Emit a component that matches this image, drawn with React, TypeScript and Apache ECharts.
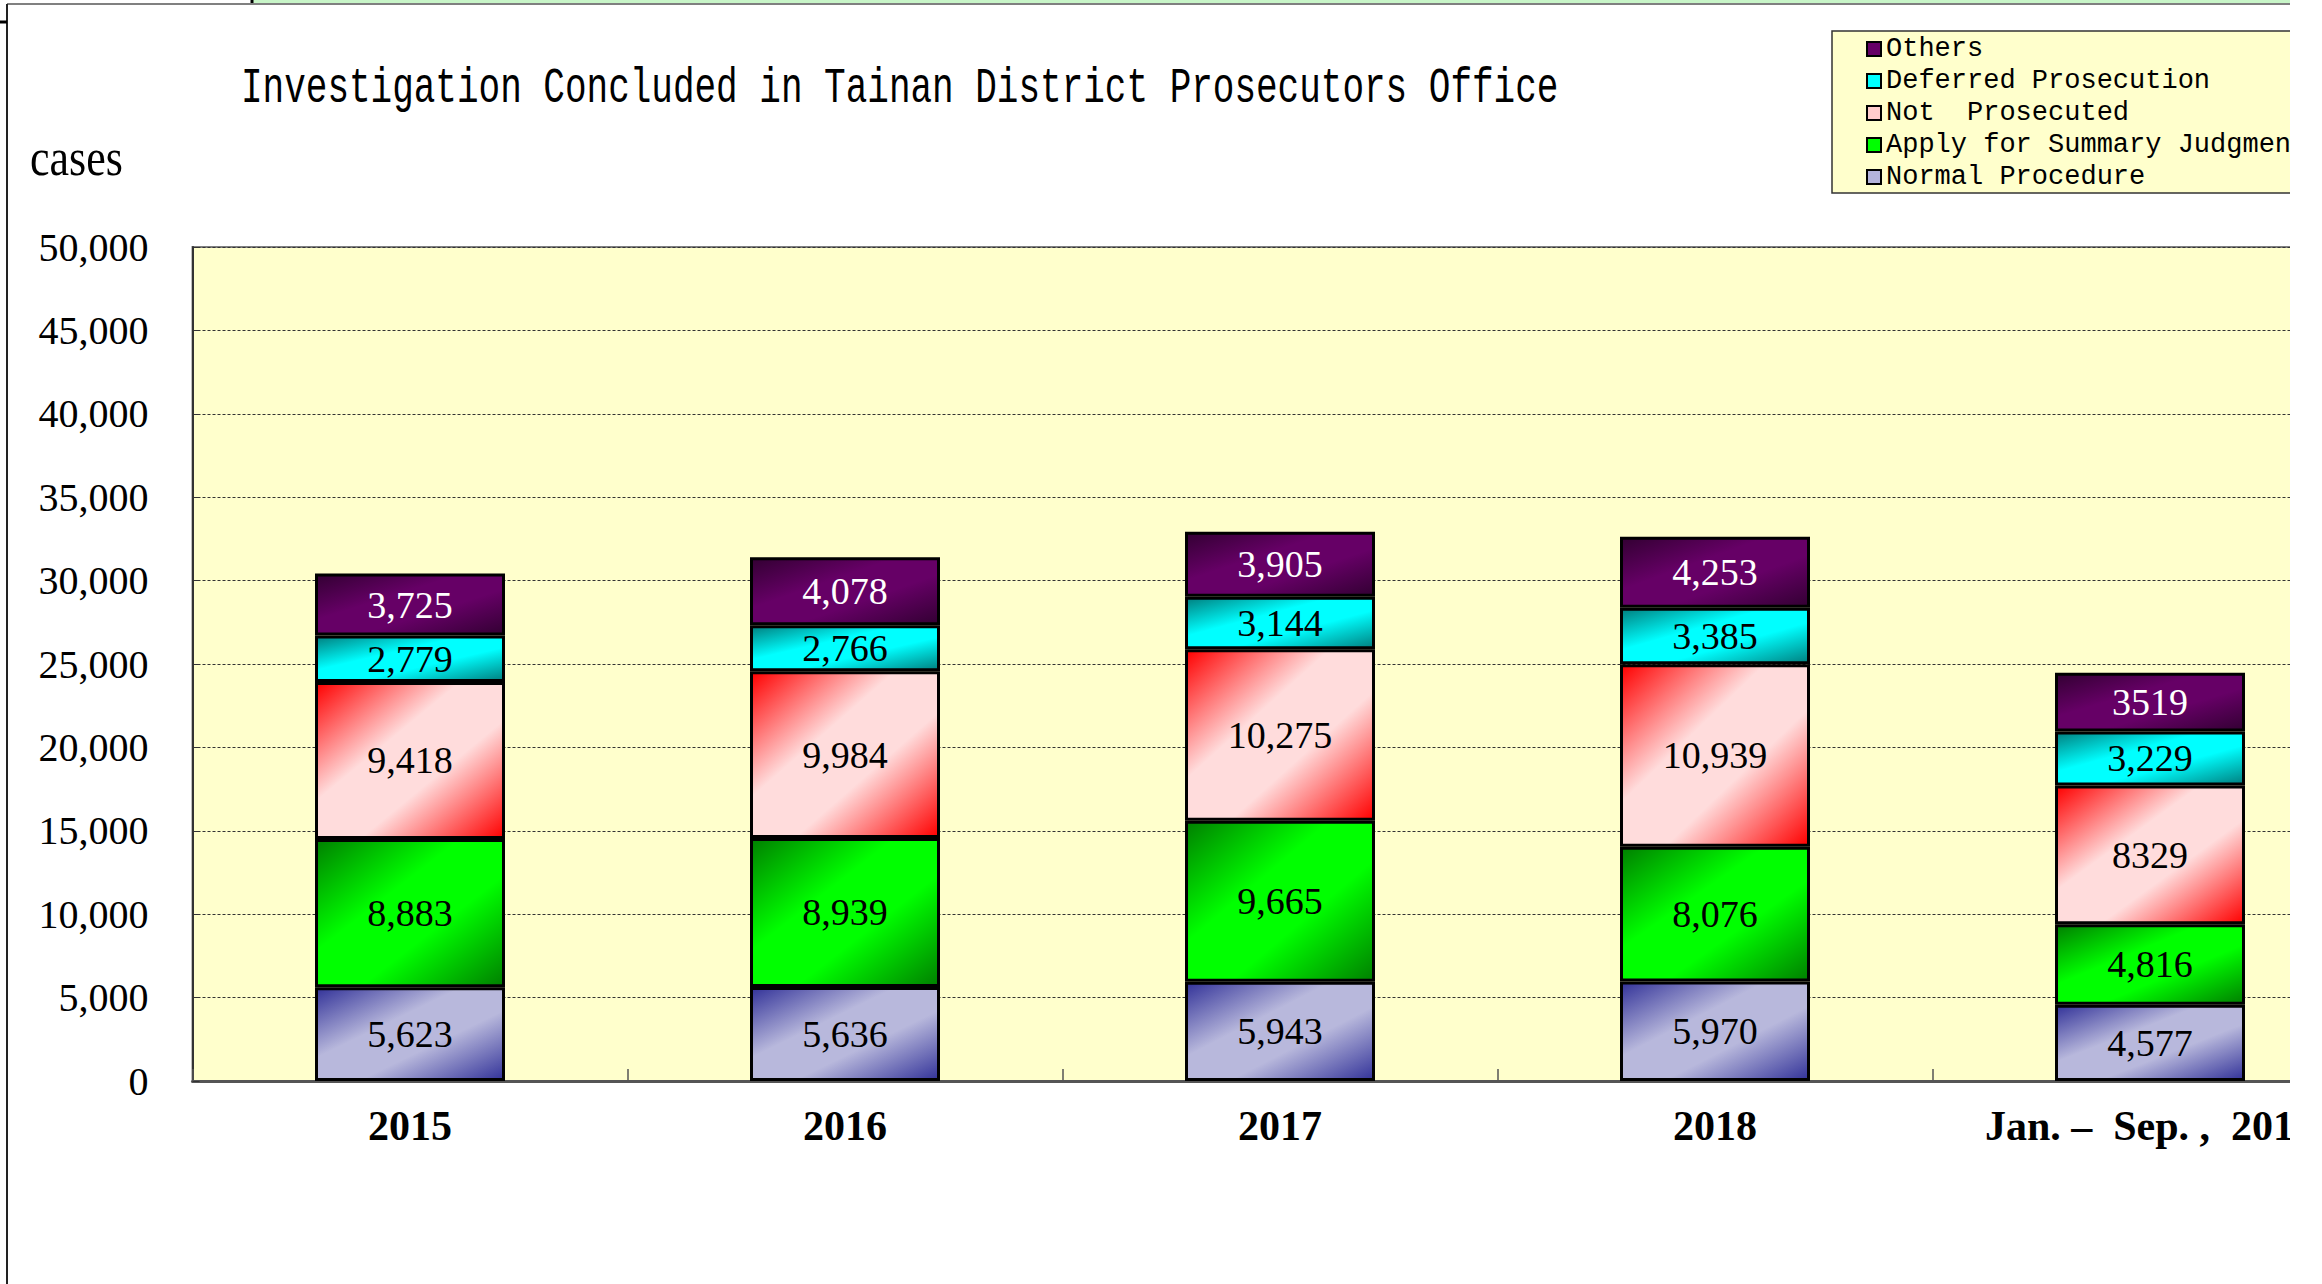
import React, { useEffect, useRef } from "react";
import * as echarts from "echarts";

const categories = ["2015", "2016", "2017", "2018", "Jan. –  Sep. ,  2019"];
const seriesNames = [
  "Normal Procedure",
  "Apply for Summary Judgment",
  "Not  Prosecuted",
  "Deferred Prosecution",
  "Others",
];
const normalProcedure = [5623, 5636, 5943, 5970, 4577];
const summaryJudgment = [8883, 8939, 9665, 8076, 4816];
const notProsecuted = [9418, 9984, 10275, 10939, 8329];
const deferredProsecution = [2779, 2766, 3144, 3385, 3229];
const others = [3725, 4078, 3905, 4253, 3519];
// labels printed without thousands separator in the source: [series index, category index]
const plainLabels = [
  [2, 4],
  [4, 4],
];
const yMin = 0;
const yMax = 50000;
const yStep = 5000;

const titleText = "Investigation Concluded in Tainan District Prosecutors Office";
const unitText = "cases";

const seriesValues = [normalProcedure, summaryJudgment, notProsecuted, deferredProsecution, others];
const darkColors = ["#333399", "#008000", "#FF0000", "#008080", "#330033"];
const lightColors = ["#B8B8DC", "#00FF00", "#FFDCDC", "#00FFFF", "#660066"];
const iconColors = ["#B4B4DC", "#00FF00", "#FFCCCC", "#00FFFF", "#660066"];
const labelColors = ["#000", "#000", "#000", "#000", "#fff"];

const serif = "'Liberation Serif', 'Times New Roman', serif";
const mono = "'Liberation Mono', 'DejaVu Sans Mono', monospace";

export default function App() {
  const ref = useRef<HTMLDivElement>(null);
  useEffect(() => {
    if (!ref.current) return;
    const chart = echarts.init(ref.current, null, { renderer: "svg" });
    const series = seriesNames.map((name, si) => ({
      name,
      type: "bar",
      stack: "total",
      barWidth: 190,
      data: seriesValues[si],
      itemStyle: {
        color: new echarts.graphic.LinearGradient(0, 0, 1, 1, [
          { offset: 0, color: darkColors[si] },
          { offset: 0.38, color: lightColors[si] },
          { offset: 0.62, color: lightColors[si] },
          { offset: 1, color: darkColors[si] },
        ]),
        borderColor: "#000",
        borderWidth: 3,
      },
      label: {
        show: true,
        position: "inside",
        fontFamily: serif,
        fontSize: 38,
        color: labelColors[si],
        formatter: (p: any) => {
          const plain = plainLabels.some((c) => c[0] === si && c[1] === p.dataIndex);
          return plain ? String(p.value) : Number(p.value).toLocaleString("en-US");
        },
      },
    }));
    const legendData = seriesNames
      .map((name, si) => ({
        name,
        itemStyle: { color: iconColors[si], borderColor: "#000", borderWidth: 2 },
      }))
      .reverse();

    chart.setOption({
      animation: false,
      backgroundColor: "#fff",
      grid: {
        left: 192.5,
        top: 247,
        width: 2175,
        height: 834,
        show: true,
        backgroundColor: "#FFFFCC",
        borderColor: "#808080",
        borderWidth: 2,
      },
      legend: {
        orient: "vertical",
        left: 1832,
        top: 31,
        padding: [2, 40, 0, 34],
        itemGap: 0,
        itemWidth: 14,
        itemHeight: 14,
        icon: "rect",
        backgroundColor: "#FFFFCC",
        borderColor: "#333",
        borderWidth: 1.5,
        textStyle: { fontFamily: mono, fontSize: 27, lineHeight: 32, color: "#000" },
        data: legendData,
      },
      xAxis: {
        type: "category",
        data: categories,
        axisLine: { show: true, lineStyle: { color: "#555", width: 3 } },
        axisTick: { show: true, inside: true, length: 12, interval: 0, lineStyle: { color: "#555", width: 1.5 } },
        axisLabel: {
          interval: 0,
          fontFamily: serif,
          fontSize: 42,
          fontWeight: "bold",
          color: "#000",
          margin: 24,
        },
        splitLine: { show: false },
      },
      yAxis: {
        type: "value",
        min: yMin,
        max: yMax,
        interval: yStep,
        axisLine: { show: true, lineStyle: { color: "#333", width: 2 } },
        axisTick: { show: true, inside: true, length: 7, lineStyle: { color: "#333" } },
        axisLabel: {
          fontFamily: serif,
          fontSize: 40,
          color: "#000",
          margin: 44,
          formatter: (v: number) => v.toLocaleString("en-US"),
        },
        splitLine: { show: true, lineStyle: { color: "#333", type: [3, 2], width: 1 } },
      },
      series,
      graphic: [
        { type: "rect", shape: { x: 252, y: 0, width: 2100, height: 3 }, style: { fill: "#C8F5C8" }, silent: true },
        { type: "line", shape: { x1: 252, y1: 0, x2: 252, y2: 4 }, style: { stroke: "#000", lineWidth: 3 }, silent: true },
        { type: "line", shape: { x1: 7, y1: 4, x2: 2400, y2: 4 }, style: { stroke: "#808080", lineWidth: 2 }, silent: true },
        { type: "line", shape: { x1: 7, y1: 4, x2: 7, y2: 1284 }, style: { stroke: "#222", lineWidth: 2 }, silent: true },
        { type: "line", shape: { x1: 0, y1: 22, x2: 7, y2: 22 }, style: { stroke: "#000", lineWidth: 3 }, silent: true },
        {
          type: "text",
          x: 241,
          y: 89,
          scaleY: 1.4,
          style: {
            text: titleText,
            font: `normal 36px ${mono}`,
            fill: "#000",
            textAlign: "left",
            textVerticalAlign: "middle",
            align: "left",
            verticalAlign: "middle",
          },
        },
        {
          type: "text",
          x: 30,
          y: 158,
          scaleY: 1.2,
          style: {
            text: unitText,
            font: `normal 44px ${serif}`,
            fill: "#000",
            textAlign: "left",
            textVerticalAlign: "middle",
            align: "left",
            verticalAlign: "middle",
          },
        },
      ],
    });
    return () => chart.dispose();
  }, []);

  return (
    <div
      style={{
        position: "fixed",
        left: 0,
        top: 0,
        width: 2290,
        height: 1284,
        overflow: "hidden",
        background: "#fff",
      }}
    >
      <div ref={ref} style={{ width: 2450, height: 1284 }} />
    </div>
  );
}
